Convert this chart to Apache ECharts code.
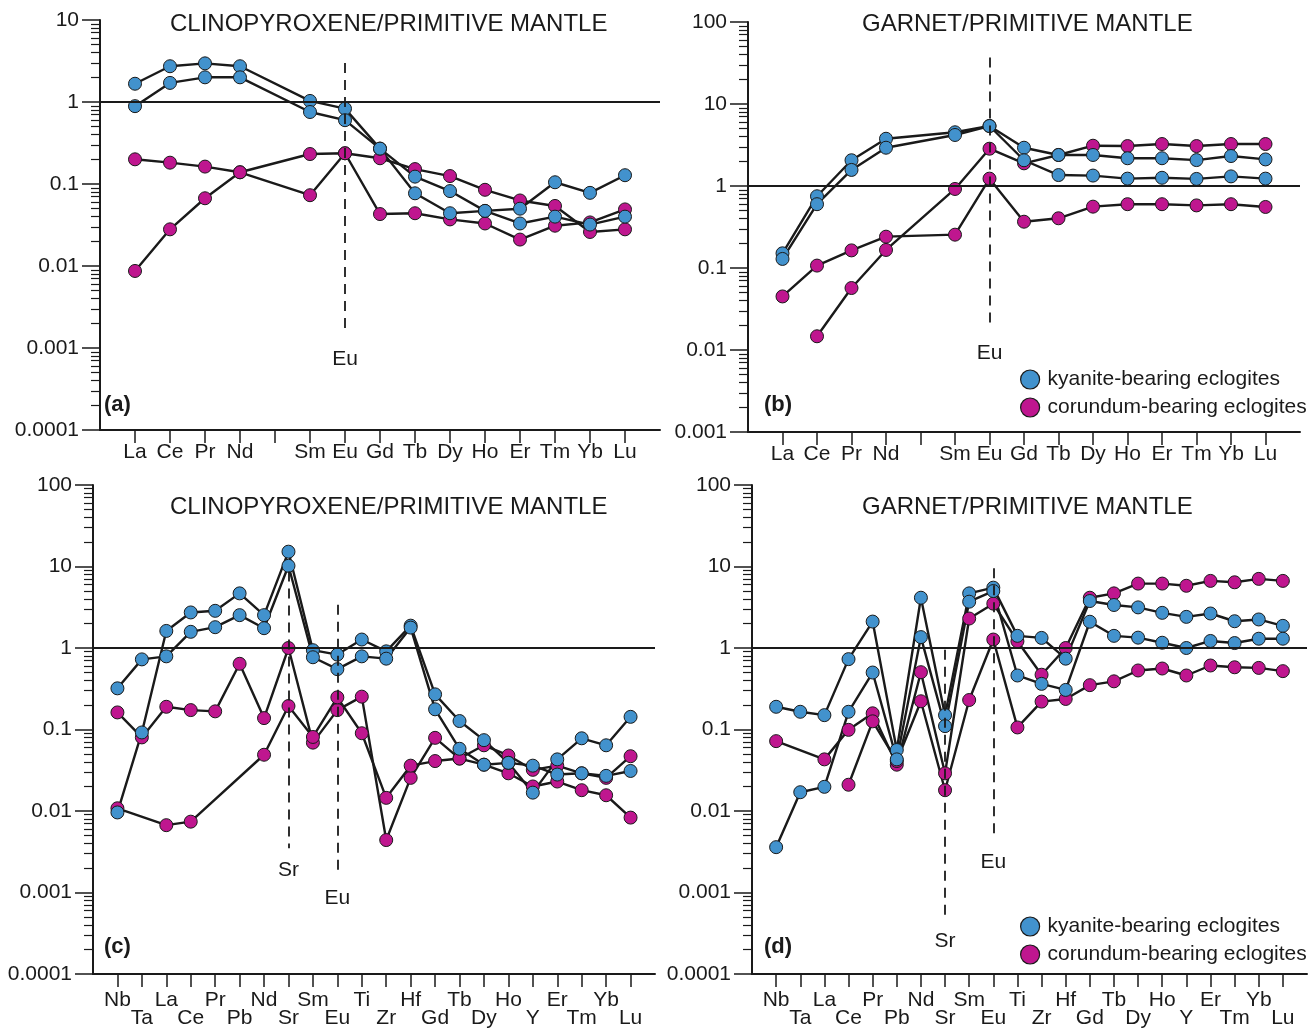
<!DOCTYPE html>
<html>
<head>
<meta charset="utf-8">
<script src="https://cdn.jsdelivr.net/npm/echarts@6/dist/echarts.min.js"></script>
<style>
html, body { margin: 0; padding: 0; background: #fff; }
#chart { width: 1310px; height: 1029px; }
</style>
</head>
<body>
<div id="chart"></div>
<script>
// element order on the x axes
var reeElements = ['La','Ce','Pr','Nd','Pm','Sm','Eu','Gd','Tb','Dy','Ho','Er','Tm','Yb','Lu'];
var spiderElements = ['Nb','Ta','La','Ce','Pr','Pb','Nd','Sr','Sm','Eu','Ti','Zr','Hf','Gd','Tb','Dy','Ho','Y','Er','Tm','Yb','Lu'];

// tick labels of the log axes
var yLabelsA = ['0.0001','0.001','0.01','0.1','1','10'];
var yLabelsB = ['0.001','0.01','0.1','1','10','100'];
var yLabelsCD = ['0.0001','0.001','0.01','0.1','1','10','100'];

// (a) clinopyroxene / primitive mantle, REE
var cpxKyA = [1.67, 2.73, 2.96, 2.73, null, 1.03, 0.83, 0.27, 0.123, 0.082, 0.047, 0.033, 0.040, 0.032, 0.040];
var cpxKyB = [0.89, 1.71, 2.0, 2.0, null, 0.755, 0.60, 0.27, 0.077, 0.044, 0.047, 0.050, 0.105, 0.078, 0.128];
var cpxCoA = [0.20, 0.182, 0.163, 0.139, null, 0.073, 0.237, 0.043, 0.044, 0.037, 0.033, 0.021, 0.031, 0.034, 0.049];
var cpxCoB = [0.0087, 0.028, 0.067, 0.139, null, 0.232, 0.237, 0.206, 0.152, 0.125, 0.085, 0.063, 0.054, 0.026, 0.028];

// (b) garnet / primitive mantle, REE
var grtKyA = [0.151, 0.75, 2.06, 3.77, null, 4.52, 5.39, 2.93, 2.39, 2.39, 2.18, 2.18, 2.07, 2.32, 2.11];
var grtKyB = [0.129, 0.60, 1.57, 2.93, null, 4.19, 5.39, 2.06, 1.36, 1.34, 1.23, 1.26, 1.22, 1.31, 1.23];
var grtCoA = [0.045, 0.107, 0.164, 0.241, null, 0.255, 1.23, 0.367, 0.404, 0.56, 0.60, 0.60, 0.58, 0.60, 0.555];
var grtCoB = [null, 0.0147, 0.057, 0.166, null, 0.92, 2.85, 1.89, 2.39, 3.1, 3.07, 3.25, 3.07, 3.25, 3.25];

// (c) clinopyroxene / primitive mantle, trace elements
var cpxSpKyA = [0.0096, 0.092, 1.62, 2.73, 2.86, 4.68, 2.53, 15.2, 0.94, 0.83, 1.27, 0.91, 1.88, 0.27, 0.127, 0.074, 0.039, 0.0168, 0.043, 0.078, 0.064, 0.143];
var cpxSpKyB = [0.32, 0.725, 0.79, 1.58, 1.80, 2.53, 1.75, 10.2, 0.77, 0.55, 0.79, 0.74, 1.78, 0.177, 0.058, 0.037, 0.039, 0.036, 0.028, 0.029, 0.027, 0.031];
var cpxSpCoA = [0.162, 0.080, 0.19, 0.173, 0.167, 0.64, 0.138, 1.0, 0.069, 0.173, 0.253, 0.0044, 0.0255, 0.079, 0.044, 0.037, 0.029, 0.020, 0.023, 0.018, 0.0156, 0.0083];
var cpxSpCoB = [0.0108, null, 0.0067, 0.0074, null, null, 0.049, 0.194, 0.081, 0.248, 0.090, 0.0145, 0.036, 0.041, 0.044, 0.064, 0.048, 0.032, 0.036, 0.029, 0.0255, 0.047];

// (d) garnet / primitive mantle, trace elements
var grtSpKyA = [0.19, 0.165, 0.150, 0.73, 2.11, 0.056, 4.14, 0.15, 4.68, 5.5, 1.41, 1.33, 0.74, 3.77, 3.37, 3.15, 2.7, 2.41, 2.65, 2.13, 2.24, 1.87];
var grtSpKyB = [0.0036, 0.017, 0.0198, 0.165, 0.50, 0.043, 1.36, 0.11, 3.7, 5.0, 0.46, 0.363, 0.306, 2.1, 1.41, 1.34, 1.16, 1.0, 1.22, 1.15, 1.30, 1.30];
var grtSpCoA = [0.072, null, 0.043, 0.099, 0.158, 0.037, 0.505, 0.029, 2.3, 3.5, 1.21, 0.47, 1.0, 4.14, 4.68, 6.17, 6.17, 5.8, 6.66, 6.4, 7.05, 6.66];
var grtSpCoB = [null, null, null, 0.021, 0.126, 0.041, 0.222, 0.018, 0.23, 1.27, 0.106, 0.22, 0.237, 0.35, 0.39, 0.53, 0.56, 0.46, 0.61, 0.58, 0.57, 0.52];

var INK = '#1a1a1a';
var BLUE = '#4292cd';
var PINK = '#bf168f';
var FONT = '"Liberation Sans", Arial, sans-serif';
var KY = 'kyanite-bearing eclogites';
var CO = 'corundum-bearing eclogites';

function pad(arr) { return [null].concat(arr, [null]); }
function cats(list) { return [' '].concat(list, ['  ']); }

var panels = [
    { grid: {left: 100, top: 20, width: 560, height: 410}, elems: reeElements, exp: [-4, 1], labels: yLabelsA,
      ky: [cpxKyA, cpxKyB], co: [cpxCoA, cpxCoB], spider: false,
      dashes: [['Eu', 3, 0.0015, 15]] },
    { grid: {left: 748, top: 22, width: 552, height: 410}, elems: reeElements, exp: [-3, 2], labels: yLabelsB,
      ky: [grtKyA, grtKyB], co: [grtCoA, grtCoB], spider: false,
      dashes: [['Eu', 37, 0.02, 17]] },
    { grid: {left: 93, top: 485, width: 562, height: 489}, elems: spiderElements, exp: [-4, 2], labels: yLabelsCD,
      ky: [cpxSpKyA, cpxSpKyB], co: [cpxSpCoA, cpxSpCoB], spider: true,
      dashes: [['Sr', 8.7, 0.0035, 12], ['Eu', 3.4, 0.0016, 12]] },
    { grid: {left: 752, top: 485, width: 558, height: 489}, elems: spiderElements, exp: [-4, 2], labels: yLabelsCD,
      ky: [grtSpKyA, grtSpKyB], co: [grtSpCoA, grtSpCoB], spider: true,
      dashes: [['Sr', 0.95, 0.00048, 12], ['Eu', 9.5, 0.0046, 13]] }
];

var grids = [], xAxes = [], yAxes = [], series = [];

panels.forEach(function (p, i) {
    grids.push(p.grid);
    var n = p.elems.length + 2;
    var majors = [], minors = [];
    for (var e = p.exp[0]; e <= p.exp[1]; e++) {
        majors.push(parseFloat(Math.pow(10, e).toPrecision(3)));
        if (e < p.exp[1]) {
            for (var k = 2; k <= 9; k++) minors.push(parseFloat((k * Math.pow(10, e)).toPrecision(3)));
        }
    }
    xAxes.push({
        type: 'category', gridIndex: i, data: cats(p.elems), boundaryGap: false,
        axisLine: {onZero: false, lineStyle: {color: INK, width: 2}},
        axisTick: {length: 13, lineStyle: {color: INK, width: 1.5},
            interval: function (idx) { return idx > 0 && idx < n - 1; }},
        axisLabel: {
            interval: 0, color: INK, fontFamily: FONT, fontSize: 21,
            margin: p.spider ? 17 : 13, lineHeight: 18,
            formatter: function (v, idx) {
                if (v.trim() === '' || v === 'Pm') return '';
                if (p.spider && idx % 2 === 0) return '\n' + v;
                return v;
            }
        },
        splitLine: {show: false}
    });
    var lab = p.labels, e0 = p.exp[0];
    yAxes.push({
        type: 'log', logBase: 10, gridIndex: i, position: 'left',
        min: majors[0], max: majors[majors.length - 1],
        splitNumber: majors.length - 1,
        axisLine: {show: true, lineStyle: {color: INK, width: 2}},
        axisTick: {show: true, length: 18, lineStyle: {color: INK, width: 1.5}, customValues: majors},
        axisLabel: {customValues: majors, color: INK, fontFamily: FONT, fontSize: 21, margin: 21,
            formatter: function (v) { return lab[Math.round(Math.log10(v)) - e0]; }},
        splitLine: {show: false}
    });
    // second axis only to draw the log minor ticks
    yAxes.push({
        type: 'log', logBase: 10, gridIndex: i, position: 'left',
        min: majors[0], max: majors[majors.length - 1],
        axisLine: {show: false},
        axisTick: {show: true, length: 9, lineStyle: {color: INK, width: 1.2}, customValues: minors},
        axisLabel: {show: false},
        splitLine: {show: false}
    });

    var marks = [{yAxis: 1, lineStyle: {type: 'solid', width: 2, color: INK}, label: {show: false}}];
    p.dashes.forEach(function (d) {
        marks.push([
            {coord: [d[0], d[1]]},
            {coord: [d[0], d[2]], lineStyle: {type: [10, 7], width: 1.8, color: INK},
             label: {show: true, position: 'end', formatter: d[0], distance: d[3],
                     color: INK, fontFamily: FONT, fontSize: 21}}
        ]);
    });

    function mk(name, color, vals, withMarks) {
        var s = {
            name: name, type: 'line', xAxisIndex: i, yAxisIndex: i * 2,
            data: pad(vals), connectNulls: true,
            symbol: 'circle', symbolSize: 13, showAllSymbol: true,
            lineStyle: {color: INK, width: 2.4},
            itemStyle: {color: color, borderColor: INK, borderWidth: 1},
            emphasis: {disabled: true}, animation: false
        };
        if (withMarks) {
            s.markLine = {silent: true, symbol: ['none', 'none'], animation: false,
                lineStyle: {color: INK, width: 2, type: 'solid'}, data: marks};
        }
        return s;
    }
    series.push(mk(CO, PINK, p.co[0], true));
    series.push(mk(CO, PINK, p.co[1], false));
    series.push(mk(KY, BLUE, p.ky[0], false));
    series.push(mk(KY, BLUE, p.ky[1], false));
});

function panelText(t, x, y, bold) {
    return {text: t, left: x, top: y, padding: 0,
        textStyle: {color: INK, fontFamily: FONT, fontSize: bold ? 22 : 24, fontWeight: bold ? 'bold' : 'normal'}};
}

function legendAt(top) {
    return {
        orient: 'vertical', left: 1015, top: top, itemGap: 7, itemWidth: 19, itemHeight: 19,
        icon: 'circle', selectedMode: false, data: [KY, CO],
        itemStyle: {borderColor: INK, borderWidth: 1.2},
        textStyle: {color: INK, fontFamily: FONT, fontSize: 21, padding: [0, 0, 0, 3]}
    };
}

var chart = echarts.init(document.getElementById('chart'), null, {renderer: 'canvas'});
chart.setOption({
    backgroundColor: '#fff',
    animation: false,
    title: [
        panelText('CLINOPYROXENE/PRIMITIVE MANTLE', 170, 12, false),
        panelText('GARNET/PRIMITIVE MANTLE', 862, 12, false),
        panelText('CLINOPYROXENE/PRIMITIVE MANTLE', 170, 495, false),
        panelText('GARNET/PRIMITIVE MANTLE', 862, 495, false),
        panelText('(a)', 104, 394, true),
        panelText('(b)', 764, 394, true),
        panelText('(c)', 104, 936, true),
        panelText('(d)', 764, 936, true)
    ],
    legend: [legendAt(364), legendAt(911)],
    grid: grids,
    xAxis: xAxes,
    yAxis: yAxes,
    series: series
});
</script>
</body>
</html>
